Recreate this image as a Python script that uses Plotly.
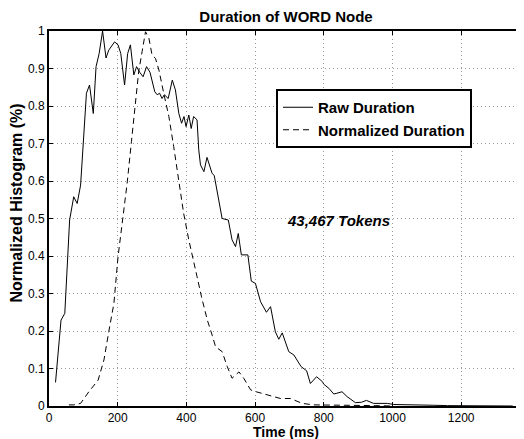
import plotly.graph_objects as go

# values (time in ms, normalized histogram)
raw_ms = [19, 35, 46, 60, 72, 82, 92, 109, 118, 129, 137, 146, 156, 166, 174, 191, 201, 209,
          220, 229, 237, 247, 255, 264, 274, 284, 294, 308, 315, 322, 329, 336, 347, 359, 368,
          378, 386, 393, 399, 407, 414, 421, 431, 436, 441, 451, 460, 475, 481, 494, 504, 522,
          533, 543, 551, 560, 579, 589, 601, 616, 633, 645, 659, 669, 679, 698, 708, 713, 734,
          750, 761, 779, 796, 800, 815, 829, 838, 853, 868, 892, 910, 924, 945, 985, 1004,
          1040, 1080, 1120, 1160, 1200, 1250, 1300, 1350]
raw_val = [0.063, 0.229, 0.247, 0.496, 0.558, 0.54, 0.589, 0.834, 0.856, 0.78, 0.905, 0.94,
           1.0, 0.928, 0.949, 0.971, 0.963, 0.94, 0.856, 0.94, 0.963, 0.883, 0.905, 0.89,
           0.878, 0.905, 0.89, 0.838, 0.83, 0.834, 0.82, 0.83, 0.82, 0.869, 0.843, 0.78, 0.754,
           0.772, 0.745, 0.776, 0.74, 0.772, 0.763, 0.683, 0.643, 0.625, 0.663, 0.62, 0.615,
           0.549, 0.5, 0.496, 0.443, 0.425, 0.46, 0.403, 0.403, 0.333, 0.327, 0.278, 0.25,
           0.265, 0.198, 0.178, 0.195, 0.145, 0.14, 0.136, 0.105, 0.094, 0.06, 0.078, 0.065,
           0.058, 0.047, 0.032, 0.034, 0.038, 0.025, 0.009, 0.01, 0.015, 0.007, 0.007, 0.004,
           0.004, 0.002, 0.002, 0.001, 0.001, 0.001, 0.0, 0.0]

norm_ms = [58, 72, 92, 116, 143, 160, 174, 189, 201, 208, 216, 228, 240, 252, 261, 271, 281,
           291, 300, 310, 320, 334, 349, 363, 378, 392, 407, 422, 431, 444, 461, 475, 485, 504,
           519, 533, 553, 567, 587, 603, 635, 674, 703, 737, 770, 800, 850, 900, 950, 1000]
norm_val = [0.003, 0.003, 0.007, 0.038, 0.069, 0.123, 0.198, 0.274, 0.398, 0.451, 0.496,
            0.598, 0.705, 0.803, 0.891, 0.945, 0.998, 0.98, 0.936, 0.927, 0.896, 0.834, 0.772,
            0.692, 0.594, 0.514, 0.443, 0.376, 0.345, 0.291, 0.229, 0.189, 0.158, 0.145, 0.105,
            0.074, 0.091, 0.074, 0.043, 0.038, 0.029, 0.02, 0.02, 0.007, 0.003, 0.003, 0.002,
            0.001, 0.001, 0.0]

x_ticks = [0, 200, 400, 600, 800, 1000, 1200]
y_ticks = [0, 0.1, 0.2, 0.3, 0.4, 0.5, 0.6, 0.7, 0.8, 0.9, 1]
y_labels = ["0", "0.1", "0.2", "0.3", "0.4", "0.5", "0.6", "0.7", "0.8", "0.9", "1"]

font = "Liberation Sans, Arial, Helvetica, sans-serif"

# page body has an 8px margin, so the figure is sized to fill the rest of the window
W, H = 516, 431
ML, MR, MT, MB = 41, 1, 23, 33
pw, ph = W - ML - MR, H - MT - MB

fig = go.Figure()
fig.add_trace(go.Scatter(x=raw_ms, y=raw_val, mode="lines", name="<b>Raw Duration</b>",
                         line=dict(color="black", width=1)))
fig.add_trace(go.Scatter(x=norm_ms, y=norm_val, mode="lines", name="<b>Normalized Duration</b>",
                         line=dict(color="black", width=1, dash="6px,4px")))

fig.add_annotation(x=843, y=0.496, text="<b><i>43,467 Tokens</i></b>", showarrow=False,
                   font=dict(family=font, size=15, color="black"))
fig.add_annotation(xref="paper", yref="paper", x=-33 / pw, y=0.54, xanchor="center",
                   yanchor="middle", text="<b>Normalized Histogram (%)</b>", textangle=-90,
                   showarrow=False, font=dict(family=font, size=16, color="black"))
fig.add_annotation(xref="paper", yref="paper", x=0.5, y=-26 / ph, xanchor="center",
                   yanchor="middle", text="<b>Time (ms)</b>", showarrow=False,
                   font=dict(family=font, size=14, color="black"))

axis_style = dict(showline=True, linecolor="black", linewidth=2, mirror="ticks",
                  ticks="inside", ticklen=4, tickcolor="black", showgrid=True,
                  gridcolor="#999999", griddash="1px,3px", gridwidth=1, zeroline=False,
                  automargin=False,
                  tickfont=dict(family=font, size=12, color="black"))

fig.update_xaxes(range=[0, 1380], tickvals=x_ticks, **axis_style)
fig.update_yaxes(range=[0, 1], tickvals=y_ticks, ticktext=y_labels, **axis_style)

fig.update_layout(
    width=W, height=H,
    margin=dict(l=ML, r=MR, t=MT, b=MB),
    paper_bgcolor="white", plot_bgcolor="white",
    title=dict(text="<b>Duration of WORD Node</b>", x=(ML + pw / 2) / W, xanchor="center",
               y=1 - 9 / H, yanchor="middle",
               font=dict(family=font, size=15, color="black")),
    legend=dict(x=227 / pw, y=1 - 58 / ph, xanchor="left", yanchor="top",
                bgcolor="white", bordercolor="black", borderwidth=2,
                font=dict(family=font, size=15, color="black")),
    font=dict(family=font),
)

fig.write_html("out.html")
